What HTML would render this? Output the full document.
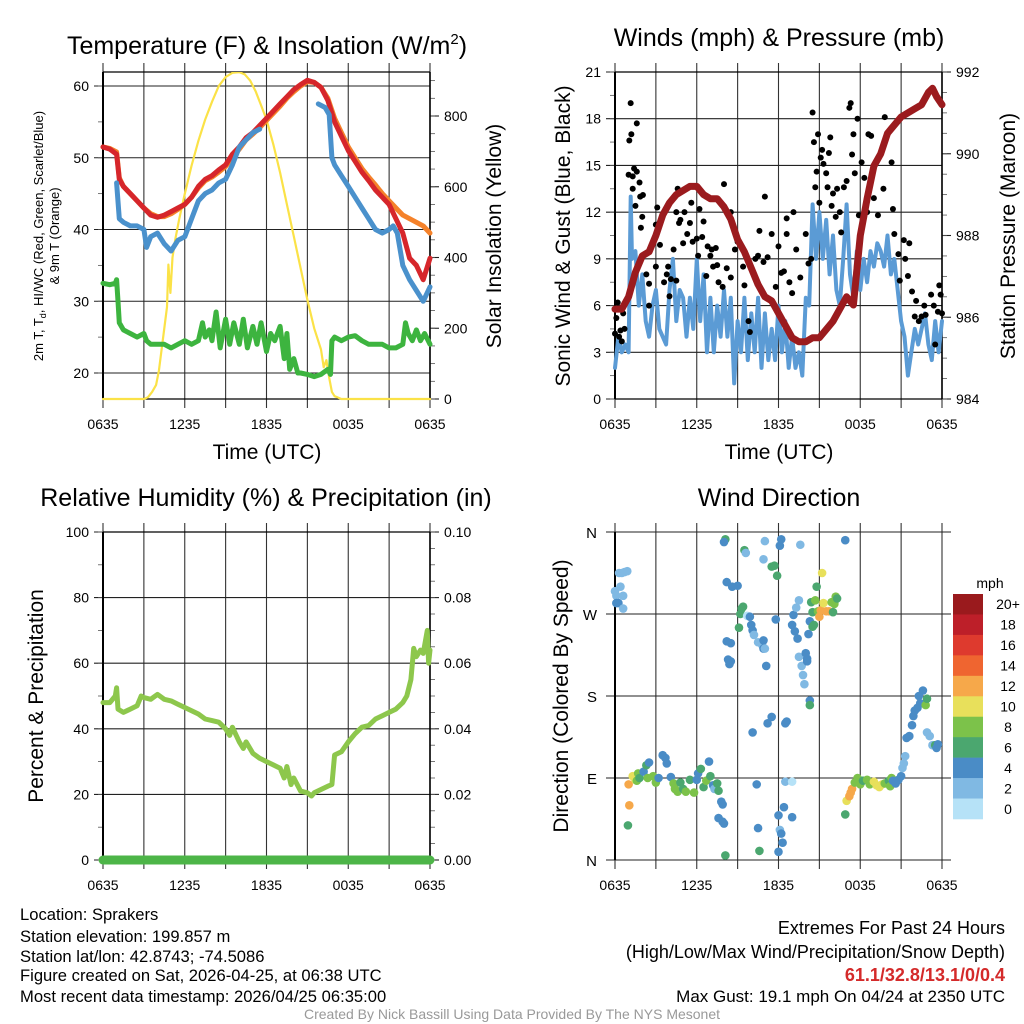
<!DOCTYPE html>
<html><head><meta charset="utf-8"><style>
html,body{margin:0;padding:0;background:#fff;}
svg{display:block;font-family:"Liberation Sans",Arial,sans-serif;}
</style></head><body>
<svg id="chart" xmlns="http://www.w3.org/2000/svg" width="1024" height="1024" viewBox="0 0 1024 1024">
<rect width="1024" height="1024" fill="#fff"/>
<g id="layer"></g>
<g fill="#000">
<text x="267" y="54" font-size="25" text-anchor="middle">Temperature (F) &amp; Insolation (W/m<tspan font-size="15" dy="-10">2</tspan><tspan dy="10">)</tspan></text>
<text x="779" y="46" font-size="25" text-anchor="middle">Winds (mph) &amp; Pressure (mb)</text>
<text x="266" y="506" font-size="25" text-anchor="middle">Relative Humidity (%) &amp; Precipitation (in)</text>
<text x="779" y="506" font-size="25" text-anchor="middle">Wind Direction</text>
<text x="267" y="459" font-size="21" text-anchor="middle">Time (UTC)</text>
<text x="779" y="459" font-size="21" text-anchor="middle">Time (UTC)</text>
<text transform="translate(43,236) rotate(-90)" font-size="13" text-anchor="middle">2m T, T<tspan font-size="9" dy="3">d</tspan><tspan dy="-3">, HI/WC (Red, Green, Scarlet/Blue)</tspan></text>
<text transform="translate(59,236) rotate(-90)" font-size="13" text-anchor="middle">&amp; 9m T (Orange)</text>
<text transform="translate(501,236) rotate(-90)" font-size="21" text-anchor="middle">Solar Insolation (Yellow)</text>
<text transform="translate(570,236) rotate(-90)" font-size="21" text-anchor="middle">Sonic Wind &amp; Gust (Blue, Black)</text>
<text transform="translate(1015,236) rotate(-90)" font-size="21" text-anchor="middle">Station Pressure (Maroon)</text>
<text transform="translate(43,696) rotate(-90)" font-size="21" text-anchor="middle">Percent &amp; Precipitation</text>
<text transform="translate(568,696) rotate(-90)" font-size="21" text-anchor="middle">Direction (Colored By Speed)</text>
</g>
<g font-size="16.6" fill="#000">
<text x="20" y="920">Location: Sprakers</text>
<text x="20" y="942">Station elevation: 199.857 m</text>
<text x="20" y="962">Station lat/lon: 42.8743; -74.5086</text>
<text x="20" y="981">Figure created on Sat, 2026-04-25, at 06:38 UTC</text>
<text x="20" y="1002">Most recent data timestamp: 2026/04/25 06:35:00</text>
</g>
<g font-size="17" fill="#000" text-anchor="end">
<text x="1005" y="934" font-size="18">Extremes For Past 24 Hours</text>
<text x="1005" y="958" font-size="18">(High/Low/Max Wind/Precipitation/Snow Depth)</text>
<text x="1005" y="981" fill="#d42a2a" font-weight="bold" font-size="18">61.1/32.8/13.1/0/0.4</text>
<text x="1005" y="1002">Max Gust: 19.1 mph On 04/24 at 2350 UTC</text>
</g>
<text x="512" y="1019" font-size="14" fill="#999" text-anchor="middle">Created By Nick Bassill Using Data Provided By The NYS Mesonet</text>
</svg>
<script>
// ---------- DATA ----------
const xTickLabels = ["0635","1235","1835","0035","0635"];
const tempTimes = [0,0.5,1,1.2,1.5,2,2.5,3,3.5,4,4.5,5,5.5,6,6.5,7,7.5,8,8.5,9,9.5,10,10.5,11,11.5,12,12.5,13,13.5,14,14.5,15,15.5,16,16.5,17,17.5,18,18.5,19,19.5,20,20.5,21,21.5,22,22.5,23,23.5,24];
const tempRed = [51.5,51.2,50.5,47,46,45,44,43,42,41.7,42,42.5,43,43.5,44.5,46,47,47.5,48.3,49,50.5,51.5,52.8,53.5,54.5,55.5,56.5,57.5,58.5,59.5,60.2,60.8,60.5,59.8,58,55,53,51,49.5,48,46.8,45.5,44.5,43.5,41.5,39.5,36,35,33,36];
const tempOrange = [51.5,51.3,50.8,47.2,46,45,44,43,42.2,41.8,41.8,42.2,42.8,43.5,44.5,45.8,46.8,47.3,48,48.8,50,51.2,52.5,53.3,54.2,55.2,56.2,57.2,58.3,59.2,60,60.6,60.5,59.8,58.3,55.5,53.5,51.5,50,48.5,47.3,46.2,45,44,43,42,41.5,41,40.5,39.5];
const hiwcTimes = [1,1.2,1.5,2,2.5,3,3.2,3.5,4,4.5,5,5.5,6,6.5,7,7.5,8,8.5,9,9.5,10,10.5,11,11.5,null,15.8,16.3,16.6,16.8,17,17.5,18,18.5,19,19.5,20,20.5,21,21.3,21.6,22,22.5,23,23.5,24];
const hiwcBlue = [46.5,41.5,41,40.5,40.5,40,37.5,39,39.5,38,37,38.5,39,41.5,44,45,45.5,46.5,47,49,51.5,52.5,53.5,54,null,57.5,57,56,50,49,47.5,46,44.5,43,41.5,40,39.5,40,40.5,39.5,35,33,31.5,30,32];
const dewTimes = [0,0.5,0.9,1,1.1,1.2,1.5,2,2.5,3,3.2,3.5,4,4.5,5,5.5,6,6.5,7,7.3,7.5,7.8,8,8.3,8.6,9,9.3,9.6,10,10.3,10.6,11,11.3,11.6,12,12.3,12.6,13,13.3,13.5,13.7,14,14.3,14.5,15,15.5,16,16.5,16.7,16.8,17,17.5,18,18.5,19,19.5,20,20.5,21,21.5,22,22.2,22.4,22.7,23,23.3,23.6,24];
const dewGreen = [32.5,32.3,32.5,33,30,27,26,25.5,25,25.5,24.5,24,24,24,23.5,24,24.5,24,24.5,27,25,26,24.5,28.5,23.5,27.5,24,27,24,27.5,23.5,26.5,24,27,23,25.5,24.5,26.5,22,25.5,20.5,22,20,20,19.8,19.5,19.8,20.5,19.8,24.5,25,24.5,25,25.2,24.5,24,24,24,23.5,23.5,24,27,25.5,24.5,26,24.5,25.5,24];
const solarTimes = [0,3,3.3,3.6,3.9,4.1,4.3,4.5,4.7,4.8,4.95,5.1,5.3,5.6,6,6.5,7,7.5,8,8.5,9,9.5,10,10.4,10.8,11.2,11.6,12,12.5,13,13.5,14,14.5,15,15.5,16,16.2,16.4,16.6,16.8,17,17.5,24];
const solarWm2 = [0,0,5,20,40,80,140,200,260,380,300,400,450,510,580,660,730,790,840,885,910,922,924,918,900,870,830,790,720,640,550,460,370,280,200,140,90,110,60,20,8,0,0];
const windTimes = [0,0.25,0.5,0.75,1,1.15,1.25,1.5,1.75,2,2.25,2.5,2.75,3,3.25,3.5,3.75,4,4.25,4.5,4.75,5,5.25,5.5,5.75,6,6.25,6.5,6.75,7,7.25,7.5,7.75,8,8.25,8.5,8.75,9,9.25,9.5,9.75,10,10.25,10.5,10.75,11,11.25,11.5,11.75,12,12.25,12.5,12.75,13,13.25,13.5,13.75,14,14.25,14.5,14.75,15,15.25,15.5,15.75,16,16.25,16.5,16.75,17,17.25,17.5,17.75,18,18.25,18.5,18.75,19,19.25,19.5,19.75,20,20.25,20.5,20.75,21,21.25,21.5,21.75,22,22.25,22.5,22.75,23,23.25,23.5,23.75,24];
const windSpeed = [2,4,3,3.5,3,13,9,9.5,6,8,5,4,6,7,4.5,4,3.5,7,9,5,7,6.5,4,6.5,4.5,9,5,8,3,6.5,3,6,4,7,4,6.5,1,5,3,6.5,2.5,5.5,3,6.5,2,5.5,2.5,4.5,2.5,6,3,5,2,4,2,3,1.5,6.5,6,12.5,9,12,9,11.5,8,10.5,7,6,9,12.5,8,6.5,9.5,7,9,7.5,9.5,8.5,10,9.5,8.5,10.5,8,9,7,5,4,1.5,3,4.5,3.5,4.5,5.5,3.5,2.5,5,3,5];
const pressTimes = [0,0.5,1,1.5,2,2.5,3,3.5,4,4.5,5,5.5,6,6.5,7,7.5,8,8.5,9,9.5,10,10.5,11,11.5,12,12.5,13,13.5,14,14.5,15,15.5,16,16.5,17,17.5,18,18.5,19,19.5,20,20.5,21,21.5,22,22.5,23,23.3,23.6,24];
const pressMb = [986.2,986.2,986.5,987.1,987.5,987.6,988.0,988.5,988.8,989.0,989.1,989.2,989.2,989.0,988.9,988.9,988.7,988.4,987.9,987.6,987.2,986.8,986.5,986.4,986.1,985.8,985.5,985.4,985.4,985.5,985.5,985.7,985.9,986.2,986.5,986.3,988.0,988.9,989.7,990.0,990.5,990.7,990.9,991.0,991.1,991.2,991.5,991.6,991.4,991.2];
const gustTimes = [0,0.1,0.2,0.3,0.4,0.5,0.6,0.7,1.0,1.05,1.15,1.2,1.3,1.3,1.4,1.5,1.6,1.6,1.8,1.85,2.0,2.05,1.9,2.3,2.5,2.5,3.0,3.1,3.3,3.0,3.6,3.8,3.9,4.0,4.1,4.3,4.5,4.6,4.5,4.7,4.8,5.1,5.0,5.3,5.5,5.6,5.7,6.0,6.1,6.2,6.4,6.5,6.7,6.8,7.0,7.1,7.2,7.4,7.5,7.6,8.0,7.9,8.2,8.5,8.5,8.8,9.0,9.2,9.4,9.5,9.8,9.9,10.3,10.5,10.6,10.9,11.0,11.2,11.5,11.8,12.0,12.2,12.4,12.6,12.6,12.8,13.0,13.1,13.3,13.6,14.0,14.2,14.4,14.5,14.6,14.7,14.8,14.9,15.0,15.1,15.2,15.3,15.5,15.6,15.7,15.8,15.9,16.0,16.2,16.3,16.5,16.6,16.8,17.0,17.2,17.3,17.4,17.5,17.6,17.8,17.9,18.1,18.3,18.5,18.6,18.8,19.0,19.3,19.5,19.7,19.8,20.0,20.3,20.4,20.5,20.8,20.9,21.2,21.5,21.6,21.3,21.8,22.0,22.1,22.3,22.5,22.7,22.8,23.2,23.4,23.5,23.7,23.8,23.9,24];
const gustSpeed = [4.2,5.2,6.2,4,4.4,3.7,5.5,4.5,14.4,16.6,19,17,13.5,14.3,14.8,12.4,17.7,14.6,13.9,13,11.7,13.1,11,8,6,7.4,11.2,12.3,9.9,8.5,7.5,8,8.5,6.6,7.7,9.6,7.6,13.5,12,11.3,11.5,12,10,10.6,11.3,12.6,10.1,10.3,9.2,12.2,10.4,11.4,7.9,9.8,9.2,9.6,8.5,9.7,8.6,7.5,13.8,7.2,8.4,7.8,12,9.6,10.1,9.9,8.5,7.3,5,4.3,9,9.2,10.8,8.8,13,9.1,10.6,7.2,9.8,8.1,8.2,10.6,11.6,7.5,6.8,12,9.6,7.8,10.6,8.7,9,18.4,16.5,13.6,14.6,17,12.6,15.5,16,15.1,14.5,13.6,15.8,16.8,12.4,13.2,11.7,13.5,12,10.7,13.6,14,18.7,19,15.7,17,14.5,18,11.8,15.2,14.2,12,17,16.9,12.9,11.8,15.7,13.5,18.1,17,15.2,12.2,10.6,9.3,7.6,10.2,7.9,10,9,6.9,5.3,6.3,5,5.3,6,5.4,6.7,6,3.5,5.6,7.3,6.7,5.5];
const rhTimes = [0,0.5,0.9,1,1.1,1.5,2,2.5,2.8,3,3.5,4,4.5,5,5.5,6,6.5,7,7.5,8,8.5,9,9.3,9.5,10,10.3,10.5,11,11.5,12,12.5,13,13.3,13.5,13.8,14,14.5,15,15.3,15.5,16,16.5,16.8,17,17.5,18,18.5,19,19.5,20,20.5,21,21.5,22,22.3,22.6,22.8,23,23.3,23.5,23.8,23.9,24];
const rhPercent = [48,48,50,52.5,46,45,46,47,50,49.5,49,50.5,49,48.5,47.5,46.5,45.5,44.5,43,42.5,42,40,38,40.5,36,34,36,32.5,31,30,29,28,25,28.5,23,25,21,20.5,19.5,20.5,21.5,22.5,23,32,33,36,38.5,40.5,41,43,44,45,46,48,50,55,64.5,62,64,63,70,60,64];
const precipTimes = [0,24];
const precipInches = [0,0];
const dirTimes = [0,0.1,0.1,0.25,0.4,0.6,0.6,0.3,0.5,0.7,0.9,1.0,1.05,0.95,1.3,1.5,1.7,1.6,1.8,2.1,2.3,2.5,2.4,2.8,3.0,3.2,3.5,3.7,3.8,4.1,4.3,4.4,4.6,4.8,5.0,5.2,5.5,5.8,6.0,6.1,6.3,6.5,6.7,6.9,7.0,7.2,7.3,7.5,7.6,7.8,7.9,7.6,7.9,8.0,8.1,8.1,8.0,8.2,8.2,8.5,8.3,8.5,8.4,8.6,9.0,9.1,9.2,9.4,9.3,9.5,9.6,9.7,9.9,10.0,10.1,11.0,10.9,11.1,10.1,10.4,10.5,10.6,10.2,10.5,10.8,10.9,10.9,11.0,11.2,11.5,11.5,11.7,11.9,11.8,12.1,12.2,12.0,12.1,12.0,12.2,12.3,12.4,12.5,12.5,12.6,13.0,13.0,13.1,13.0,13.2,13.4,13.3,13.5,13.6,13.5,13.8,13.7,13.9,14.0,14.1,14.1,14.2,14.3,14.3,14.3,14.4,14.5,14.5,14.6,14.8,14.7,14.9,15.0,15.1,15.2,15.3,15.5,15.7,15.9,16.1,16.2,16.3,16.0,16.9,16.9,17.0,17.2,17.3,17.4,17.6,17.8,18.0,18.2,18.5,18.7,19.0,19.2,19.4,19.6,19.8,20.1,20.2,20.3,20.4,20.6,20.8,21.0,21.1,21.2,21.3,21.4,21.6,21.8,21.9,22.0,22.2,22.4,22.3,22.6,22.8,22.9,22.9,23.1,23.3,23.5,23.6,23.7];
const dirDegrees = [295,290,282,282,300,290,276,315,315,316,317,83,60,38,92,88,95,87,90,97,104,107,90,92,85,90,115,112,106,91,84,78,75,85,78,75,88,74,88,95,100,80,87,108,92,82,78,84,76,64,61,46,42,40,5,352,349,305,240,238,220,218,215,300,301,255,270,278,276,340,337,268,267,258,252,350,330,213,140,83,35,10,247,239,236,232,241,232,150,157,322,323,312,264,345,352,9,33,49,29,19,58,86,150,152,86,47,269,258,251,243,277,285,346,223,203,213,193,227,221,218,248,175,170,262,283,272,256,258,300,285,273,267,274,315,282,273,273,283,281,289,287,272,351,50,65,70,74,78,85,90,83,87,88,83,86,82,80,83,84,87,81,90,87,84,88,92,101,106,114,134,136,148,158,164,167,172,180,186,170,177,140,136,126,126,123,127];
const dirSpeeds = [2,2,4,4,2,2,2,2,2,2,2,13,13,6,10,10,8,8,6,4,6,4,8,8,8,4,4,4,4,4,8,8,8,6,6,8,6,8,4,4,6,6,8,4,6,4,2,6,6,4,4,4,4,4,6,6,4,4,4,4,4,4,4,4,4,6,6,6,6,6,2,0,4,4,4,2,2,4,4,4,4,6,2,2,2,4,4,2,4,4,6,6,6,4,4,4,4,2,4,4,4,4,2,4,4,0,4,4,4,4,4,2,2,2,2,2,2,2,4,4,4,4,4,6,4,6,6,6,6,6,8,8,12,12,10,10,12,12,8,8,8,6,6,4,6,10,12,12,12,8,8,8,6,8,8,10,10,10,10,8,6,8,8,4,4,4,4,2,2,2,4,4,4,4,4,4,4,4,4,8,6,2,2,2,6,4,4];
const speedBinLabels = ["20+","18","16","14","12","10","8","6","4","2","0"];
const speedBinColors = ["#9a1a1d","#bd1f29","#de3a2e","#ef6530","#f6a84a","#e8e05b","#7cc24a","#4ba76f","#4a8cc6","#80b9e3","#b6e2f7"];

// ---------- HELPERS ----------
const NS = "http://www.w3.org/2000/svg";
const layer = document.getElementById("layer");
function el(tag, attrs, parent) {
  const e = document.createElementNS(NS, tag);
  for (const k in attrs) e.setAttribute(k, attrs[k]);
  (parent || layer).appendChild(e);
  return e;
}
function makeScale(d0, d1, r0, r1) { return v => r0 + (v - d0) / (d1 - d0) * (r1 - r0); }

function panelFrame(p, name) {
  const g = el("g", {});
  
  
  for (let h = 0; h <= 24; h += 3) {
    const x = p.xs(h);
    const ln = el("line", {x1: x, x2: x, y1: p.y0 - 9, y2: p.y1 + 9, stroke: "#333", "stroke-width": 1.1}, g);
    
    
  }
  for (let i = 0; i < xTickLabels.length; i++) {
    const t = el("text", {x: p.xs(i * 6), y: p.y1 + 30, "font-size": 14, "text-anchor": "middle"}, g);
    t.textContent = xTickLabels[i];
    
    
  }
  return g;
}
function leftAxis(p, g, ticks, labels, minors, showGrid) {
  ticks.forEach((v, i) => {
    const y = p.ys(v);
    el("line", {x1: p.x0 - 9, x2: showGrid ? p.x1 : p.x0, y1: y, y2: y, stroke: "#222", "stroke-width": 1.1}, g);
    const t = el("text", {x: p.x0 - 14, y: y + 5, "font-size": 14, "text-anchor": "end"}, g);
    t.textContent = labels[i];
    
    
  });
  minors.forEach(v => el("line", {x1: p.x0 - 5, x2: p.x0, y1: p.ys(v), y2: p.ys(v), stroke: "#555", "stroke-width": 0.8}, g));
}
function rightAxis(p, g, scale, ticks, labels, minors) {
  ticks.forEach((v, i) => {
    const y = scale(v);
    el("line", {x1: p.x1, x2: p.x1 + 9, y1: y, y2: y, stroke: "#222", "stroke-width": 1.1}, g);
    const t = el("text", {x: p.x1 + 14, y: y + 5, "font-size": 14, "text-anchor": "start"}, g);
    t.textContent = labels[i];
    
    
  });
  minors.forEach(v => el("line", {x1: p.x1, x2: p.x1 + 5, y1: scale(v), y2: scale(v), stroke: "#555", "stroke-width": 0.8}, g));
}
function border(p, g, right) {
  el("line", {x1: p.x0, x2: p.x0, y1: p.y0, y2: p.y1, stroke: "#000", "stroke-width": 2}, g);
  el("line", {x1: p.x0, x2: p.x1, y1: p.y0, y2: p.y0, stroke: "#000", "stroke-width": 1.2}, g);
  el("line", {x1: p.x0, x2: p.x1, y1: p.y1, y2: p.y1, stroke: "#000", "stroke-width": 1.2}, g);
  if (right) el("line", {x1: p.x1, x2: p.x1, y1: p.y0, y2: p.y1, stroke: "#000", "stroke-width": 1.6}, g);
}
function pathFrom(times, vals, xs, ys) {
  let d = "", pen = false;
  for (let i = 0; i < times.length; i++) {
    if (times[i] === null || vals[i] === null) { pen = false; continue; }
    d += (pen ? "L" : "M") + xs(times[i]).toFixed(1) + "," + ys(vals[i]).toFixed(1);
    pen = true;
  }
  return d;
}
function clipFor(p, id) {
  const c = el("clipPath", {id: id});
  el("rect", {x: p.x0 - 6, y: p.y0, width: p.x1 - p.x0 + 12, height: p.y1 - p.y0 + 6}, c);
  return "url(#" + id + ")";
}
function seriesPath(times, vals, p, ys, color, w, name, clip) {
  const attrs = {d: pathFrom(times, vals, p.xs, ys), fill: "none", stroke: color, "stroke-width": w, "stroke-linejoin": "round", "stroke-linecap": "round"};
  if (clip) attrs["clip-path"] = clip;
  const e = el("path", attrs);
  
  
  return e;
}
function range(a, b, s) { const r = []; for (let v = a; v <= b + 1e-9; v += s) r.push(+v.toFixed(4)); return r; }

// ---------- PANEL 1: Temperature ----------
const P1 = {x0: 103, x1: 430, y0: 72, y1: 399};
P1.xs = makeScale(0, 24, P1.x0, P1.x1);
P1.ys = makeScale(20, 60, 373, 86);
const solarY = makeScale(0, 800, 399, 116);
{
  const g = panelFrame(P1, 'temperature');
  leftAxis(P1, g, [20,30,40,50,60], ["20","30","40","50","60"], range(20, 60, 5), true);
  rightAxis(P1, g, solarY, [0,200,400,600,800], ["0","200","400","600","800"], range(0, 900, 50));
  border(P1, g, true);
  const clip = clipFor(P1, "c1");
  seriesPath(solarTimes, solarWm2, P1, solarY, "#fbe247", 2.2, 'solar-insolation-line', clip);
  seriesPath(tempTimes, tempOrange, P1, P1.ys, "#f5822a", 5, 'temp-9m-line', clip);
  seriesPath(tempTimes, tempRed, P1, P1.ys, "#d6262b", 5, 'temp-2m-line', clip);
  seriesPath(hiwcTimes, hiwcBlue, P1, P1.ys, "#4a91cc", 5, 'heat-index-windchill-line', clip);
  seriesPath(dewTimes, dewGreen, P1, P1.ys, "#3db43f", 5, 'dewpoint-line', clip);
}

// ---------- PANEL 2: Winds ----------
const P2 = {x0: 615, x1: 942, y0: 72, y1: 399};
P2.xs = makeScale(0, 24, P2.x0, P2.x1);
P2.ys = makeScale(0, 21, 399, 72);
const pressY = makeScale(984, 992, 399, 72);
{
  const g = panelFrame(P2, 'wind');
  leftAxis(P2, g, [0,3,6,9,12,15,18,21], ["0","3","6","9","12","15","18","21"], range(0, 21, 1.5), true);
  rightAxis(P2, g, pressY, [984,986,988,990,992], ["984","986","988","990","992"], range(984, 992, 0.5));
  border(P2, g, true);
  const clip = clipFor(P2, "c2");
  seriesPath(windTimes, windSpeed, P2, P2.ys, "#5b9bd5", 4, 'sonic-wind-line', clip);
  for (let i = 0; i < gustTimes.length; i++) {
    const c = el("circle", {cx: P2.xs(gustTimes[i]), cy: P2.ys(gustSpeed[i]), r: 3, fill: "#000"});
    
    
  }
  seriesPath(pressTimes, pressMb, P2, pressY, "#9b1b1e", 7, 'pressure-line', clip);
}

// ---------- PANEL 3: RH ----------
const P3 = {x0: 103, x1: 430, y0: 532, y1: 860};
P3.xs = makeScale(0, 24, P3.x0, P3.x1);
P3.ys = makeScale(0, 100, 860, 532);
const precipY = makeScale(0, 0.1, 860, 532);
{
  const g = panelFrame(P3, 'humidity');
  leftAxis(P3, g, [0,20,40,60,80,100], ["0","20","40","60","80","100"], range(0, 100, 10), true);
  rightAxis(P3, g, precipY, [0,0.02,0.04,0.06,0.08,0.1], ["0.00","0.02","0.04","0.06","0.08","0.10"], range(0, 0.1, 0.005));
  border(P3, g, true);
  seriesPath(rhTimes, rhPercent, P3, P3.ys, "#8dc74c", 5, 'relative-humidity-line', clipFor(P3, "c3"));
  seriesPath(precipTimes, precipInches, P3, precipY, "#4db548", 9, 'precipitation-line', null);
}

// ---------- PANEL 4: Wind direction ----------
const P4 = {x0: 615, x1: 942, y0: 532, y1: 860};
P4.xs = makeScale(0, 24, P4.x0, P4.x1);
P4.ys = makeScale(0, 360, 860, 532);
{
  const g = panelFrame(P4, 'direction');
  const dirTicks = [0, 90, 180, 270, 360];
  const dirLabels = ["N", "E", "S", "W", "N"];
  dirTicks.forEach((v, i) => {
    const y = P4.ys(v);
    el("line", {x1: P4.x0 - 9, x2: P4.x1 + 9, y1: y, y2: y, stroke: "#222", "stroke-width": 1.1}, g);
    const t = el("text", {x: P4.x0 - 18, y: y + 6, "font-size": 15, "text-anchor": "end"}, g);
    t.textContent = dirLabels[i];
    
    
  });
  el("line", {x1: P4.x0, x2: P4.x0, y1: P4.y0, y2: P4.y1, stroke: "#000", "stroke-width": 2}, g);
  for (let i = 0; i < dirTimes.length; i++) {
    let bin = Math.min(10, Math.floor(dirSpeeds[i] / 2));
    const c = el("circle", {cx: P4.xs(dirTimes[i]), cy: P4.ys(dirDegrees[i]), r: 4.3, fill: speedBinColors[10 - bin]});
    
    
  }
  const cb = el("g", {});
  
  
  const t0 = el("text", {x: 990, y: 588, "font-size": 14, "text-anchor": "middle"}, cb);
  t0.textContent = "mph";
  const bh = 225 / speedBinLabels.length;
  for (let i = 0; i < speedBinLabels.length; i++) {
    const r = el("rect", {x: 953, y: 594 + i * bh, width: 30, height: bh + 0.3, fill: speedBinColors[i]}, cb);
    
    
    const t = el("text", {x: 1008, y: 594 + i * bh + bh / 2 + 5, "font-size": 14, "text-anchor": "middle"}, cb);
    t.textContent = speedBinLabels[i];
    
    
  }
}
</script>
</body></html>
